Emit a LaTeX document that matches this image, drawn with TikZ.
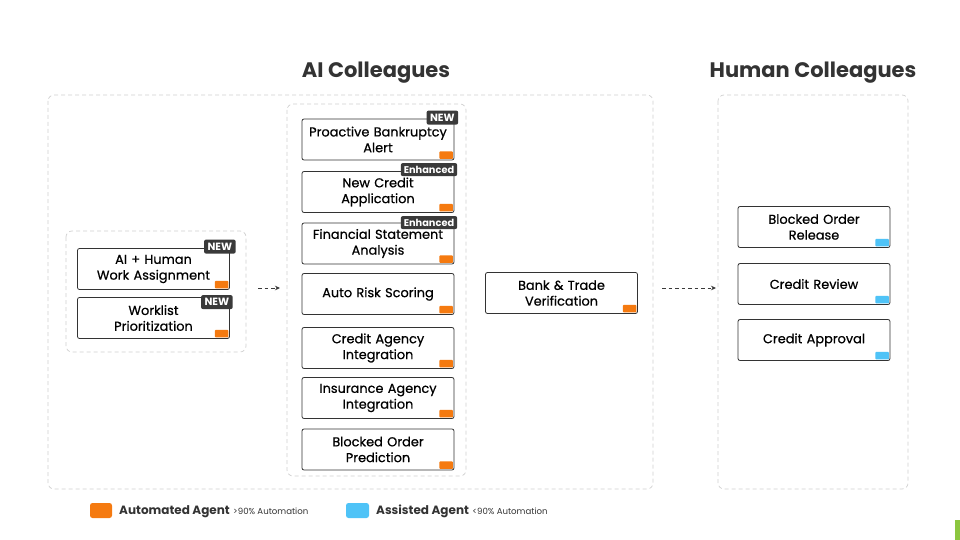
\documentclass[tikz,border=0pt]{standalone}
\usepackage{fontspec}
\setmainfont{Poppins}
\newfontfamily\popmed{Poppins}[FakeBold=0.6]
\usetikzlibrary{calc,arrows.meta}
\definecolor{agorange}{HTML}{F57A10}
\definecolor{agblue}{HTML}{4FC3F7}
\definecolor{tagdark}{HTML}{3A3A3A}
\definecolor{boxline}{HTML}{333333}
\definecolor{dashgray}{HTML}{D0D0D0}
\definecolor{titlegray}{HTML}{333333}
\definecolor{barGreen}{HTML}{8CC63F}
\tikzset{
  task/.style={draw=boxline, line width=0.8pt, rounded corners=2pt, fill=white,
    minimum width=152pt, minimum height=41pt, text width=146pt, inner sep=2pt,
    align=center, font=\popmed\fontsize{12.9}{15.8}\selectfont, text=black},
  group/.style={draw=dashgray, line width=0.7pt, dash pattern=on 4pt off 3pt, rounded corners=6pt},
  tagbox/.style={fill=tagdark, rounded corners=2pt, text=white, inner xsep=3.5pt, inner ysep=0pt,
    minimum height=14pt, anchor=east, font=\bfseries\fontsize{10.5}{11}\selectfont},
  enh/.style={tagbox, font=\bfseries\fontsize{9.8}{10}\selectfont, minimum height=13pt, inner xsep=3pt},
  conn/.style={draw=tagdark, line width=0.8pt, dash pattern=on 3.5pt off 3pt, -{Stealth[length=5pt,width=4.5pt]}},
  titletext/.style={font=\bfseries\fontsize{21}{25}\selectfont, text=titlegray},
}
\newcommand{\oflag}[2]{\fill[#2, rounded corners=0.8pt] ($(#1.south east)+(-1.5,-1.5)$) rectangle ($(#1.south east)+(-15,-9)$);}
\begin{document}
\begin{tikzpicture}[x=1pt,y=-1pt]
\useasboundingbox (0,0) rectangle (960,540);
% titles
\node[titletext] (t1) at (376,72.5) {AI Colleagues};
\node[titletext] (t2) at (813,72.5) {Human Colleagues};
% groups
\draw[group] (48,95) rectangle (653,489);
\draw[group] (718,95) rectangle (908,489);
\coordinate (aibE) at (653,288);
\coordinate (humW) at (718,288);
\draw[group] (66,231) rectangle (246,352);
\coordinate (lbE) at (246,288);
\draw[group] (287,104) rectangle (466,476);
\coordinate (mbW) at (287,288);
% left nodes
\node[task] (l1) at (153.5,269) {AI + Human\\Work Assignment};
\node[task] (l2) at (153.5,318) {Worklist\\Prioritization};
\oflag{l1}{agorange}\oflag{l2}{agorange}
\node[tagbox] (l1t) at ($(l1.north east)+(6,-1.5)$) {NEW};
\node[tagbox] (l2t) at ($(l2.north east)+(3,5)$) {NEW};
% middle nodes
\node[task] (m1) at (378,139.5) {Proactive Bankruptcy\\Alert};
\node[task] (m2) at (378,192) {New Credit\\Application};
\node[task] (m3) at (378,243.5) {Financial Statement\\Analysis};
\node[task] (m4) at (378,294) {Auto Risk Scoring};
\node[task] (m5) at (378,348) {Credit Agency\\Integration};
\node[task] (m6) at (378,398) {Insurance Agency\\Integration};
\node[task] (m7) at (378,449.5) {Blocked Order\\Prediction};
\foreach \n in {m1,m2,m3,m4,m5,m6,m7} {\oflag{\n}{agorange}}
\node[tagbox] (m1t) at ($(m1.north east)+(4,-1)$) {NEW};
\node[enh] (m2t) at ($(m2.north east)+(3,-1.5)$) {Enhanced};
\node[enh] (m3t) at ($(m3.north east)+(3,0)$) {Enhanced};
% bank
\node[task] (b1) at (561.5,293) {Bank \& Trade\\Verification};
\oflag{b1}{agorange}
% human nodes
\node[task] (h1) at (814,227) {Blocked Order\\Release};
\node[task] (h2) at (814,284) {Credit Review};
\node[task] (h3) at (814,340) {Credit Approval};
\foreach \n in {h1,h2,h3} {\oflag{\n}{agblue}}
% connectors
\draw[conn] ($(lbE)+(12,0)$) -- ($(mbW)+(-7,0)$);
\draw[conn] ($(aibE)+(9,0)$) -- ($(humW)+(-2,0)$);
% legend
\fill[agorange, rounded corners=2.5pt] (90,503) rectangle (112,518);
\node[anchor=west, inner sep=0pt, font=\bfseries\fontsize{12}{14}\selectfont, text=titlegray] (lg1) at (119,511.5) {Automated Agent};
\node[anchor=base west, inner sep=0pt, font=\fontsize{8.6}{10}\selectfont, text=titlegray] (lg1b) at ($(lg1.base east)+(3,0)$) {>90\% Automation};
\fill[agblue, rounded corners=2.5pt] (346,503) rectangle (369,518);
\node[anchor=west, inner sep=0pt, font=\bfseries\fontsize{12}{14}\selectfont, text=titlegray] (lg2) at (376,511.5) {Assisted Agent};
\node[anchor=base west, inner sep=0pt, font=\fontsize{8.6}{10}\selectfont, text=titlegray] (lg2b) at ($(lg2.base east)+(3,0)$) {<90\% Automation};
% corner bar
\fill[barGreen] (955,520) rectangle (960,540);
\end{tikzpicture}
\end{document}
